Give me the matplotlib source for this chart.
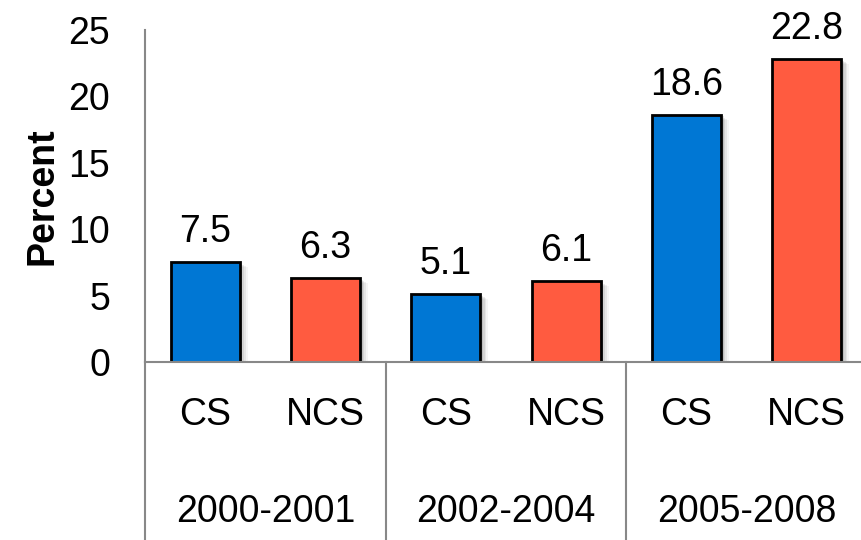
import matplotlib.pyplot as plt
from matplotlib.patches import Rectangle

plt.rcParams['font.family'] = ['Liberation Sans', 'DejaVu Sans']

periods = ['2000-2001', '2002-2004', '2005-2008']
groups = ['CS', 'NCS', 'CS', 'NCS', 'CS', 'NCS']
values = [7.5, 6.3, 5.1, 6.1, 18.6, 22.8]
colors = ['#0077D4', '#FF5B40'] * 3

W, H = 861, 540
fig = plt.figure(figsize=(W / 100, H / 100), dpi=100)
x0, x1, y0, y1 = 145, 867, 362, 30
ax = fig.add_axes([x0 / W, 1 - y0 / H, (x1 - x0) / W, (y0 - y1) / H])

xs = list(range(len(values)))
bw = 0.575
fs = 27
# soft shadow to the right of each bar
for x, v in zip(xs, values):
    for i, a in enumerate([0.10, 0.08, 0.06, 0.04]):
        off = 0.02 + i * 0.015
        ax.add_patch(Rectangle((x - bw / 2 + off, 0), bw, v - off * 6 * 0.9,
                               color='black', alpha=a, lw=0, zorder=1))
ax.bar(xs, values, width=bw, color=colors, edgecolor='black', linewidth=2, zorder=2)
for x, v in zip(xs, values):
    ax.text(x, v + 0.9, f'{v:.1f}', ha='center', va='bottom', fontsize=fs)

ax.set_xlim(-0.5, len(values) - 0.5)
ax.set_ylim(0, 25)
ax.set_yticks([0, 5, 10, 15, 20, 25])
ax.tick_params(axis='y', length=0, labelsize=fs, pad=25)
ax.set_xticks([])
for s in ['top', 'right']:
    ax.spines[s].set_visible(False)
for s in ['left', 'bottom']:
    ax.spines[s].set_color('#888888')
    ax.spines[s].set_linewidth(1.5)
ax.set_ylabel('Percent', fontsize=fs, fontweight='bold', labelpad=6)

# category axis below
to_ax = lambda py: (y0 - py) / (y0 - y1)
for xb in [-0.5, 1.5, 3.5]:
    ax.plot([xb, xb], [0, to_ax(H + 5)], color='#888888', lw=1.5,
            transform=ax.get_xaxis_transform(), clip_on=False)
for x, g in zip(xs, groups):
    ax.text(x, to_ax(415), g, ha='center', va='center', fontsize=fs,
            transform=ax.get_xaxis_transform())
for i, p in enumerate(periods):
    ax.text(2 * i + 0.5, to_ax(512), p, ha='center', va='center', fontsize=fs,
            transform=ax.get_xaxis_transform())

fig.savefig('out.png', dpi=100)
